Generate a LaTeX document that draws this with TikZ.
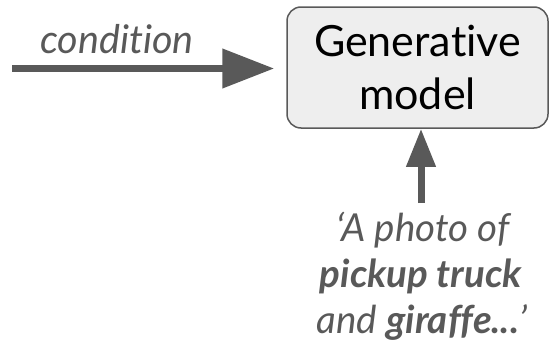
\documentclass[tikz,border=0pt]{standalone}
\usepackage{fontspec}
\setmainfont{Lato}[Ligatures=NoCommon]
\usetikzlibrary{arrows.meta}
\definecolor{ink}{HTML}{595959}
\definecolor{boxfill}{HTML}{EEEEEE}
\tikzset{
  modelbox/.style={draw=ink, fill=boxfill, line width=1.5pt, rounded corners=14pt,
    minimum width=261pt, minimum height=121pt, inner sep=0pt, align=center,
    font=\fontsize{43}{53}\selectfont, text=black},
  label/.style={inner sep=0pt, text=ink, font=\fontsize{#1}{44}\selectfont\itshape},
  label/.default=38.5,
  bigarrow/.style={draw=ink, line width=7.5pt, -{Triangle[length=52pt,width=38pt]}},
  smallarrow/.style={draw=ink, line width=7pt, -{Triangle[length=38pt,width=28pt]}}
}
\begin{document}
\begin{tikzpicture}[x=1pt,y=-1pt]
  \useasboundingbox (0,0) rectangle (549,343);

  % the model block
  \node[modelbox] (model) at (417.5,67.5) {Generative\\model};

  % conditioning input from the left
  \node[label=39.5, anchor=base] (cond) at (117,53) {condition};
  \coordinate (condtail) at (12,68.5);
  \draw[bigarrow] (condtail) -- ([xshift=-12pt]model.west |- condtail);

  % text prompt from below
  \node[label, anchor=base] (p1) at (423,241) {‘A photo of};
  \node[label, anchor=base] (p2) at (421,287) {\bfseries pickup truck};
  \node[label, anchor=base] (p3) at (422,333) {and \textbf{giraffe...}’};
  \coordinate (prompttail) at (421,203);
  \draw[smallarrow] (prompttail) -- (prompttail |- model.south);
\end{tikzpicture}
\end{document}
